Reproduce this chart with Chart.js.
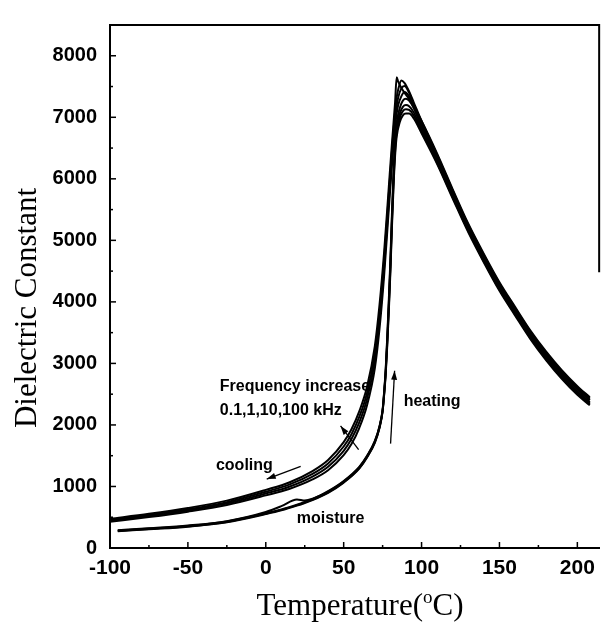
<!DOCTYPE html>
<html lang="en">
<head>
<meta charset="UTF-8">
<title>Dielectric constant vs temperature</title>
<style>
  body { margin: 0; background: #fff; }
  #chart { display: block; }
</style>
</head>
<body>
<canvas id="chart" width="603" height="629"></canvas>
<script src="https://cdn.jsdelivr.net/npm/chart.js"></script>
<script>
// cooling runs, 0.1 / 1 / 10 / 100 kHz
var coolTemps = [-100, -75, -50, -25, 0, 15, 30, 40, 50, 55, 60, 65, 70, 73, 76, 79, 81, 83, 84, 85, 87, 89, 92, 95, 100, 110, 120, 130, 140, 150, 160, 170, 180, 190, 200, 208];
var cool1 = [475, 555, 650, 770, 945, 1065, 1250, 1430, 1720, 1930, 2220, 2620, 3280, 3950, 4820, 5880, 6580, 7240, 7650, 7580, 7480, 7400, 7300, 7170, 6940, 6410, 5830, 5270, 4780, 4320, 3920, 3530, 3190, 2890, 2630, 2450];
var cool2 = [458, 538, 630, 745, 915, 1030, 1205, 1375, 1650, 1850, 2130, 2520, 3160, 3820, 4700, 5760, 6460, 7090, 7320, 7450, 7600, 7560, 7420, 7240, 6940, 6390, 5810, 5250, 4760, 4300, 3900, 3510, 3170, 2870, 2610, 2430];
var cool3 = [442, 520, 610, 722, 885, 995, 1160, 1320, 1580, 1770, 2040, 2420, 3040, 3690, 4570, 5640, 6340, 6970, 7180, 7320, 7470, 7510, 7400, 7200, 6900, 6360, 5790, 5230, 4740, 4280, 3880, 3490, 3150, 2850, 2590, 2410];
var cool4 = [426, 502, 590, 698, 855, 960, 1115, 1265, 1510, 1690, 1950, 2320, 2920, 3560, 4440, 5520, 6220, 6850, 7060, 7200, 7340, 7410, 7340, 7160, 6870, 6340, 5780, 5220, 4730, 4270, 3870, 3480, 3140, 2840, 2580, 2400];

// heating runs, same frequencies (the small bump near 20 C is the moisture)
var heatTemps = [-95, -75, -50, -25, 0, 10, 20, 25, 30, 40, 50, 60, 65, 70, 73, 75, 76, 77, 78, 79, 80, 81, 82, 83, 84, 86, 88, 90, 92, 95, 100, 110, 120, 130, 140, 150, 160, 170, 180, 190, 200, 208];
var heat1 = [290, 322, 365, 437, 585, 680, 790, 770, 800, 925, 1090, 1320, 1500, 1740, 1980, 2250, 2550, 2920, 3450, 4050, 4700, 5450, 6100, 6600, 6900, 7150, 7270, 7300, 7270, 7150, 6850, 6310, 5740, 5190, 4700, 4240, 3840, 3450, 3110, 2810, 2550, 2370];
var heat2 = [283, 315, 358, 430, 565, 628, 705, 748, 795, 915, 1080, 1310, 1490, 1730, 1970, 2240, 2530, 2890, 3400, 3980, 4630, 5380, 6030, 6530, 6820, 7060, 7170, 7200, 7180, 7080, 6800, 6290, 5720, 5170, 4680, 4220, 3820, 3430, 3090, 2790, 2530, 2350];
var heat3 = [277, 309, 352, 424, 558, 620, 697, 740, 787, 905, 1070, 1300, 1480, 1720, 1960, 2230, 2510, 2860, 3350, 3920, 4560, 5300, 5950, 6450, 6750, 6990, 7100, 7130, 7120, 7030, 6770, 6260, 5700, 5150, 4660, 4200, 3800, 3410, 3070, 2770, 2510, 2340];
var heat4 = [272, 304, 347, 418, 551, 612, 689, 732, 779, 897, 1062, 1290, 1470, 1710, 1950, 2220, 2490, 2830, 3300, 3860, 4490, 5220, 5870, 6370, 6680, 6920, 7030, 7060, 7060, 6980, 6740, 6240, 5680, 5130, 4640, 4180, 3780, 3390, 3050, 2750, 2490, 2320];

var xTickLabels = [-100, -50, 0, 50, 100, 150, 200];
var xMinorTicks = [-75, -25, 25, 75, 125, 175];
var yTickLabels = [0, 1000, 2000, 3000, 4000, 5000, 6000, 7000, 8000];
var yMinorTicks = [500, 1500, 2500, 3500, 4500, 5500, 6500, 7500];

// notes and arrows, placed in data units
var notes = [
  { text: 'Frequency increase', x: -29.5, y: 2544 },
  { text: '0.1,1,10,100 kHz', x: -29.5, y: 2160 },
  { text: 'cooling', x: -32, y: 1260 },
  { text: 'heating', x: 88.5, y: 2300 },
  { text: 'moisture', x: 19.9, y: 410 }
];
var arrows = [
  { from: [22.4, 1328], to: [0.6, 1120] },
  { from: [59.6, 1600], to: [48, 1984] },
  { from: [80.1, 1696], to: [82.7, 2880] }
];

function pts(temps, vals) {
  return temps.map(function(t, i) { return { x: t, y: vals[i] }; });
}

function curve(label, temps, vals) {
  return {
    label: label,
    data: pts(temps, vals),
    borderColor: '#000',
    borderWidth: 2,
    pointRadius: 0,
    fill: false,
    cubicInterpolationMode: 'monotone'
  };
}

function arrow(ctx, x1, y1, x2, y2) {
  var ang = Math.atan2(y2 - y1, x2 - x1);
  ctx.beginPath();
  ctx.moveTo(x1, y1);
  ctx.lineTo(x2, y2);
  ctx.stroke();
  ctx.beginPath();
  ctx.moveTo(x2, y2);
  ctx.lineTo(x2 - 9 * Math.cos(ang) + 3 * Math.sin(ang), y2 - 9 * Math.sin(ang) - 3 * Math.cos(ang));
  ctx.lineTo(x2 - 9 * Math.cos(ang) - 3 * Math.sin(ang), y2 - 9 * Math.sin(ang) + 3 * Math.cos(ang));
  ctx.closePath();
  ctx.fill();
}

var decorations = {
  id: 'decorations',
  afterDraw: function(chart) {
    var ctx = chart.ctx, a = chart.chartArea;
    var xs = chart.scales.x, ys = chart.scales.y;
    ctx.save();
    ctx.strokeStyle = '#000';
    ctx.fillStyle = '#000';

    // top edge and what is left of the right edge
    ctx.lineWidth = 2;
    ctx.beginPath();
    ctx.moveTo(a.left - 1, a.top);
    ctx.lineTo(a.right, a.top);
    ctx.lineTo(a.right, ys.getPixelForValue(4480));
    ctx.stroke();

    // inward tick marks
    ctx.lineWidth = 1.5;
    function xTick(v, len) {
      var px = xs.getPixelForValue(v);
      ctx.beginPath(); ctx.moveTo(px, a.bottom); ctx.lineTo(px, a.bottom - len); ctx.stroke();
    }
    function yTick(v, len) {
      var py = ys.getPixelForValue(v);
      ctx.beginPath(); ctx.moveTo(a.left, py); ctx.lineTo(a.left + len, py); ctx.stroke();
    }
    xTickLabels.forEach(function(v) { xTick(v, 6); });
    xMinorTicks.forEach(function(v) { xTick(v, 3); });
    yTickLabels.forEach(function(v) { yTick(v, 6); });
    yMinorTicks.forEach(function(v) { yTick(v, 3); });

    // notes
    ctx.font = 'bold 16px "Liberation Sans", Arial, sans-serif';
    ctx.textAlign = 'left';
    ctx.textBaseline = 'alphabetic';
    notes.forEach(function(n) {
      ctx.fillText(n.text, xs.getPixelForValue(n.x), ys.getPixelForValue(n.y));
    });
    ctx.lineWidth = 1.3;
    arrows.forEach(function(r) {
      arrow(ctx, xs.getPixelForValue(r.from[0]), ys.getPixelForValue(r.from[1]),
        xs.getPixelForValue(r.to[0]), ys.getPixelForValue(r.to[1]));
    });

    // axis titles
    var serif = '"Liberation Serif", "Times New Roman", serif';
    ctx.font = '31px ' + serif;
    var w1 = ctx.measureText('Temperature(').width;
    var w3 = ctx.measureText('C)').width;
    ctx.font = '19px ' + serif;
    var w2 = ctx.measureText('o').width;
    var x0 = 360 - (w1 + w2 + w3) / 2, base = 615;
    ctx.font = '31px ' + serif;
    ctx.fillText('Temperature(', x0, base);
    ctx.fillText('C)', x0 + w1 + w2, base);
    ctx.font = '19px ' + serif;
    ctx.fillText('o', x0 + w1, base - 12);

    ctx.font = '31px ' + serif;
    ctx.translate(36, 308);
    ctx.rotate(-Math.PI / 2);
    ctx.textAlign = 'center';
    ctx.fillText('Dielectric Constant', 0, 0);
    ctx.restore();
  }
};

var tickFont = { family: '"Liberation Sans", Arial, sans-serif', size: 20, weight: 'bold' };

new Chart(document.getElementById('chart').getContext('2d'), {
  type: 'line',
  data: {
    datasets: [
      curve('cooling 0.1 kHz', coolTemps, cool1),
      curve('cooling 1 kHz', coolTemps, cool2),
      curve('cooling 10 kHz', coolTemps, cool3),
      curve('cooling 100 kHz', coolTemps, cool4),
      curve('heating 0.1 kHz', heatTemps, heat1),
      curve('heating 1 kHz', heatTemps, heat2),
      curve('heating 10 kHz', heatTemps, heat3),
      curve('heating 100 kHz', heatTemps, heat4)
    ]
  },
  options: {
    responsive: false,
    animation: false,
    devicePixelRatio: 1,
    layout: { padding: { top: 15, right: 3, left: 0, bottom: 0 } },
    plugins: { legend: { display: false }, tooltip: { enabled: false } },
    scales: {
      x: {
        type: 'linear',
        min: -100,
        max: 214,
        grid: { display: false, drawTicks: false },
        border: { display: true, color: '#000', width: 2 },
        afterBuildTicks: function(s) { s.ticks = xTickLabels.map(function(v) { return { value: v }; }); },
        afterFit: function(s) { s.height = 81; },
        ticks: { color: '#000', font: { family: tickFont.family, size: 21, weight: 'bold' }, padding: 8, maxRotation: 0, autoSkip: false,
          callback: function(v) { return String(v); } }
      },
      y: {
        type: 'linear',
        min: 0,
        max: 8500,
        grid: { display: false, drawTicks: false },
        border: { display: true, color: '#000', width: 2 },
        afterBuildTicks: function(s) { s.ticks = yTickLabels.map(function(v) { return { value: v }; }); },
        afterFit: function(s) { s.width = 110; },
        ticks: { color: '#000', font: tickFont, padding: 13, callback: function(v) { return String(v); } }
      }
    }
  },
  plugins: [decorations]
});
</script>
</body>
</html>
